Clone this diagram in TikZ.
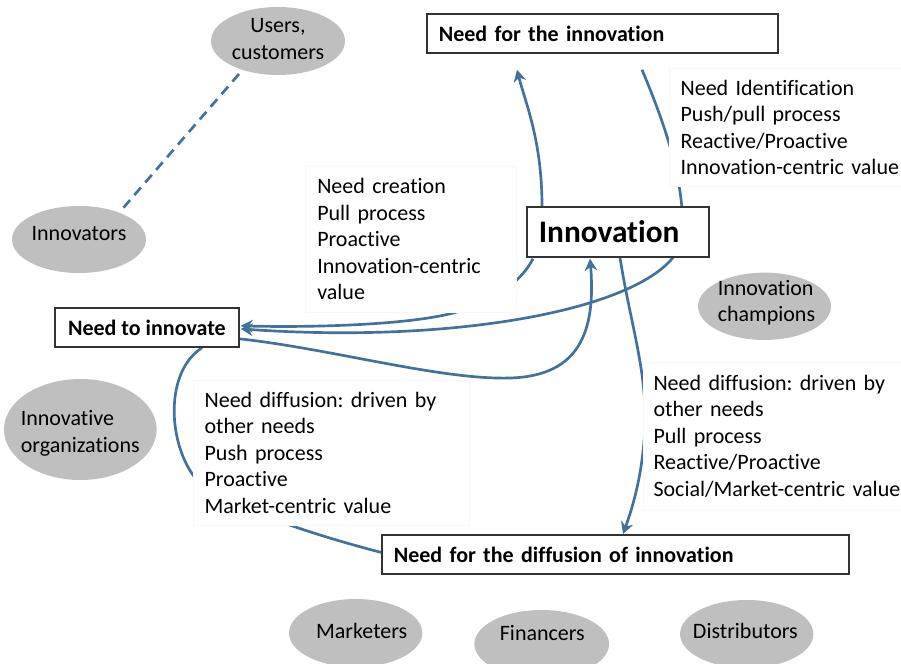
\documentclass[tikz,border=0pt]{standalone}
\usepackage{fontspec}
\setmainfont{Carlito}[Ligatures=NoCommon]
\usetikzlibrary{arrows.meta,calc,shapes.geometric,backgrounds}

\definecolor{flow}{HTML}{41719C}
\definecolor{oval}{HTML}{BFBFBF}
\definecolor{frame}{HTML}{333333}

% zero-size label for an oval: kern (twice the x offset), raise, column type, text
\newcommand\ovaltext[4]{\makebox[0pt]{\kern#1\smash{\raisebox{#2}{\begin{tabular}{@{}#3@{}}#4\end{tabular}}}}}

\pgfdeclarelayer{canvas}
\pgfsetlayers{canvas,background,main}

\tikzset{
  basefont/.style={font=\fontsize{16.5pt}{19.9pt}\selectfont},
  needbox/.style={font=\fontsize{16.5pt}{19.9pt}\selectfont\bfseries,
    draw=frame, line width=1.3pt, fill=white, anchor=north west,
    inner ysep=0pt, minimum height=29.25pt},
  notebox/.style={basefont, fill=white, draw=black!3, line width=0.4pt,
    anchor=north west, align=left, inner ysep=0pt},
  actor/.style={basefont, ellipse, fill=oval, draw=none, inner sep=0pt},
  flowline/.style={draw=flow, line width=2pt},
  flowarrow/.style={flowline, -{Stealth[length=9pt,width=9.5pt,inset=3pt]}},
  link/.style={draw=flow, line width=2pt, dash pattern=on 7.5pt off 5pt},
}

\begin{document}
\frenchspacing
\begin{tikzpicture}[x=0.75pt,y=-0.75pt]
  \begin{pgfonlayer}{canvas}
    \fill[white] (0,0) rectangle (901,664);
  \end{pgfonlayer}
  \useasboundingbox (0,0) rectangle (901,664);

  % actors
  \node[actor, minimum width=100.5pt, minimum height=51pt] (users) at (278,41)
    {\ovaltext{0pt}{-4.2pt}{c}{Users,\\customers}};
  \node[actor, minimum width=100.5pt, minimum height=50.25pt] (innovators) at (79,239.5)
    {\ovaltext{0pt}{-0.9pt}{l}{Innovators}};
  \node[actor, minimum width=99.75pt, minimum height=50.5pt] (champions) at (764.5,306.3)
    {\ovaltext{3pt}{-2pt}{l}{Innovation\\champions}};
  \node[actor, minimum width=114.5pt, minimum height=75.75pt] (organizations) at (80.3,429.5)
    {\ovaltext{0pt}{-7.4pt}{l}{Innovative\\organizations}};
  \node[actor, minimum width=100pt, minimum height=51pt] (marketers) at (355.7,633)
    {\ovaltext{9pt}{-4.4pt}{l}{Marketers}};
  \node[actor, minimum width=101pt, minimum height=51pt] (financers) at (541.7,644)
    {\ovaltext{1pt}{2.3pt}{l}{Financers}};
  \node[actor, minimum width=100pt, minimum height=51pt] (distributors) at (746.7,634)
    {\ovaltext{-2pt}{-3.9pt}{l}{Distributors}};

  % needs
  \node[needbox, text width=245.25pt, inner xsep=9pt, align=left] (needfor) at (426,13)
    {Need for the innovation};
  \node[needbox, font=\fontsize{23.5pt}{28pt}\selectfont\bfseries, text width=118.5pt,
        inner xsep=9pt, align=left, minimum height=37.5pt] (innov) at (526,206)
    {Innovation};
  \node[needbox, minimum width=138pt, inner xsep=0pt] (needto) at (54,307)
    {Need to innovate};
  \node[needbox, text width=332.25pt, inner xsep=9pt, align=left] (diff) at (381,534)
    {Need for the diffusion of innovation};

  % notes
  \node[notebox, text width=140.25pt, inner xsep=9pt, minimum height=109.5pt] (t1) at (305,166)
    {Need creation\\Pull process\\Proactive\\Innovation-centric\\value};
  \node[notebox, text width=175pt, inner xsep=8.5pt, minimum height=88.5pt] (t2) at (669,68)
    {Need Identification\\Push/pull process\\Reactive/Proactive\\Innovation-centric value};
  \node[notebox, text width=190pt, inner xsep=8.5pt, minimum height=108.75pt] (t3) at (193,380)
    {Need diffusion: driven by\\other needs\\Push process\\Proactive\\Market-centric value};
  \node[notebox, text width=195pt, inner xsep=7.7pt, minimum height=111pt] (t4) at (643,362)
    {Need diffusion: driven by\\other needs\\Pull process\\Reactive/Proactive\\Social/Market-centric value};

  % connectors, kept behind the boxes
  \begin{scope}[on background layer]
    \draw[link] ($(users.center)+(-39,33)$) -- ($(innovators.center)+(42,-29)$);

    % Innovation -> Need for the innovation
    \draw[flowarrow] ($(innov.north west)+(16,0)$)
      .. controls +(0,-66) and +(8,32) .. ($(needfor.south west)+(91,16)$);

    % Need for the innovation -> (behind Innovation) -> Need to innovate
    \coordinate (via) at ($(innov.north west)+(157,26)$);
    \draw[flowarrow] ($(needfor.south west)+(216,16)$)
      .. controls +(26,62) and +(0,-52) .. (via)
      .. controls +(0,68) and +(242,17) .. ($(needto.east)+(1,1.5)$);

    % Innovation -> Need to innovate
    \coordinate (bend) at (460,311);
    \draw[flowarrow] ($(innov.south west)+(7,1)$)
      .. controls +(-11,21) and +(40,-13) .. (bend)
      .. controls +(-40,13) and +(82,2) .. ($(needto.east)+(1,-1.5)$);

    % Need to innovate -> Innovation
    \coordinate (dip) at (510,378);
    \draw[flowarrow] ($(needto.east)+(0,11.5)$)
      .. controls +(92,10) and +(-70,2) .. (dip)
      .. controls +(70,-2) and +(6,72) .. ($(innov.south west)+(64,1)$);

    % Innovation -> Need for the diffusion of innovation
    \coordinate (swing) at (645,416);
    \draw[flowarrow] ($(innov.south west)+(94,0)$)
      .. controls +(10,63) and +(0,-51) .. (swing)
      .. controls +(0,46) and +(12,-33) .. ($(diff.north west)+(242,0)$);

    % Need to innovate -- Need for the diffusion of innovation
    \coordinate (hook) at (193,475);
    \draw[flowline] ($(needto.south west)+(148,0)$)
      .. controls +(-37,24) and +(-25,-35) .. (hook)
      .. controls +(17,25) and +(-81,-21) .. ($(diff.west)+(0,-2)$);
  \end{scope}
\end{tikzpicture}
\end{document}
